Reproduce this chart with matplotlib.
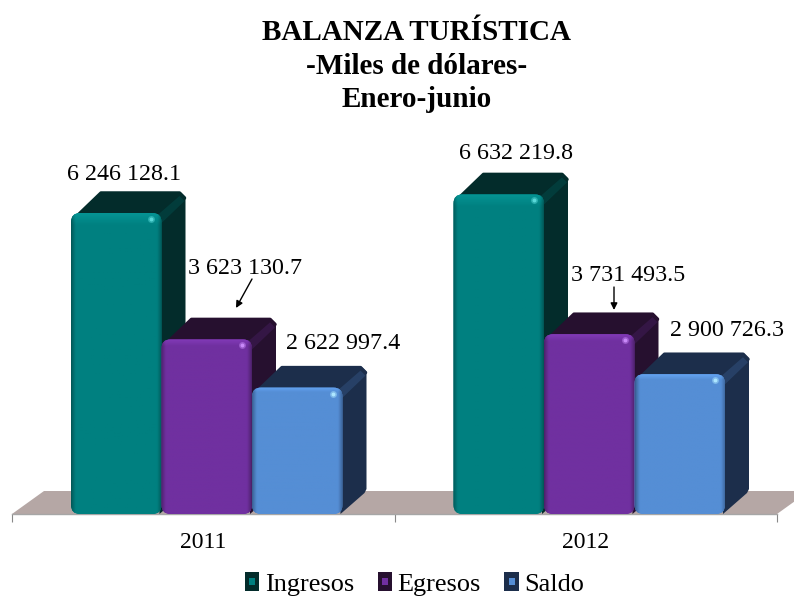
import numpy as np
import matplotlib
matplotlib.use('Agg')
import matplotlib.pyplot as plt
from matplotlib.patches import FancyBboxPatch, Polygon, Rectangle, Patch
from matplotlib.colors import to_rgb
from matplotlib.legend_handler import HandlerBase

years = ['2011', '2012']
series = ['Ingresos', 'Egresos', 'Saldo']
ingresos = [6246128.1, 6632219.8]
egresos = [3623130.7, 3731493.5]
saldo = [2622997.4, 2900726.3]
labels = [['6 246 128.1', '6 632 219.8'],
          ['3 623 130.7', '3 731 493.5'],
          ['2 622 997.4', '2 900 726.3']]

front = ['#008080', '#7030A0', '#558ED5']
dark = ['#032C2B', '#26102F', '#1C2E4B']

plt.rcParams['font.family'] = ['Liberation Serif', 'DejaVu Serif']

W, H = 794, 597
fig = plt.figure(figsize=(W / 100, H / 100), dpi=100)
ax = fig.add_axes([12 / W, (H - 514) / H, 765 / W, 414 / H])

px_x = 2 / 765            # one pixel in data units
px_y = 6246128.1 / 301
ax.set_xlim(0, 2)
ax.set_ylim(0, 414 * px_y)

dx, dy = 24 * px_x, 21 * px_y
bar_w = 90.5 * px_x


def shaded_face(base, edge, w=90, h=200):
    # dark left/right edges, a lighter band at the top of the face
    base, edge = np.array(to_rgb(base)), np.array(to_rgb(edge))
    edge = edge * 0.55 + base * 0.45
    xx = np.arange(w) + 0.5
    dist = np.minimum(xx, w - xx)
    f = np.clip(dist / 5, 0, 1) ** 0.8
    img = np.ones((h, w, 3)) * base
    img = edge + (img - edge) * f[None, :, None]
    top = np.clip(1 - (np.arange(h) + 0.5) / 8, 0, 1)[:, None, None]
    img = img + (np.minimum(base * 1.12 + 0.02, 1) - img) * top * f[None, :, None]
    return img


def draw_bar(x0, val, base, edge):
    x1 = x0 + bar_w
    side = Polygon([(x1 - 2 * px_x, 0), (x1 + dx - 2 * px_x, dy), (x1 + dx, dy + 4 * px_y),
                    (x1 + dx, val + dy - 5 * px_y), (x1 + dx - 5 * px_x, val + dy),
                    (x1 - 8 * px_x, val)], fc=edge, ec='none', zorder=3)
    ax.add_patch(side)
    top = Polygon([(x0 + 4 * px_x, val - 5 * px_y), (x0 + dx + 6 * px_x, val + dy - 1 * px_y),
                   (x1 + dx - 6 * px_x, val + dy - 1 * px_y), (x1 + dx - 1 * px_x, val + dy - 6 * px_y),
                   (x1 - 1 * px_x, val - 5 * px_y)],
                  fc=edge, ec=edge, lw=2.5, joinstyle='round', zorder=3)
    ax.add_patch(top)
    # lighter wedge where the top meets the side
    wedge = Polygon([(x1 - 5 * px_x, val - 3 * px_y), (x1 + dx - 6 * px_x, val + dy - 4 * px_y),
                     (x1 + dx - 1 * px_x, val + dy - 9 * px_y), (x1 - 1 * px_x, val - 11 * px_y)],
                    fc=tuple(np.array(to_rgb(edge)) * 0.72 + np.array(to_rgb(base)) * 0.28),
                    ec='none', alpha=0.7, zorder=3)
    ax.add_patch(wedge)
    box = FancyBboxPatch((x0, 0), bar_w, val,
                         boxstyle='round,pad=0,rounding_size=%f' % (9 * px_x),
                         mutation_aspect=px_y / px_x, fc=base, ec='none', zorder=3)
    ax.add_patch(box)
    im = ax.imshow(shaded_face(base, edge), extent=(x0, x1, 0, val), aspect='auto', zorder=3)
    im.set_clip_path(box)
    # small shine near the top right corner
    shine = np.minimum(np.array(to_rgb(base)) + 0.35, 1)
    ax.plot([x1 - 10 * px_x], [val - 6 * px_y], 'o', ms=5, mfc=tuple(shine), mec='none', alpha=0.45, zorder=3)
    ax.plot([x1 - 10 * px_x], [val - 6 * px_y], 'o', ms=2.8, mfc=tuple(shine), mec='none', zorder=3)


# floor
ax.add_patch(Polygon([(0, 0), (32 * px_x, 23 * px_y), (2 + 32 * px_x, 23 * px_y), (2, 0)],
                     fc='#B5A7A5', ec='none', clip_on=False, zorder=1))

values = [ingresos, egresos, saldo]
for g in range(len(years)):
    for s in range(len(series)):
        draw_bar(g + 59 * px_x + s * bar_w, values[s][g], front[s], dark[s])

ax.set_xlim(0, 2)
ax.set_ylim(0, 414 * px_y)

# value labels, offset in pixels from the front top middle of each bar
offsets = [[(8, 38), (17, 41)], [(38, 71), (39, 59)], [(46, 44), (47, 44)]]
for s in range(len(series)):
    for g in range(len(years)):
        xc = g + 59 * px_x + s * bar_w + bar_w / 2
        ax.annotate(labels[s][g], (xc, values[s][g]), xytext=offsets[s][g],
                    textcoords='offset pixels', ha='center', va='center',
                    fontsize=17.3, color='black', zorder=5, annotation_clip=False)

# leader arrows
ax.annotate('', xy=((236 - 12) * px_x, (514 - 308) * px_y),
            xytext=((252 - 12) * px_x, (514 - 279) * px_y),
            arrowprops=dict(arrowstyle='-|>', color='black', lw=1, shrinkA=0, shrinkB=0), zorder=5)
ax.annotate('', xy=((614 - 12) * px_x, (514 - 310) * px_y),
            xytext=((614 - 12) * px_x, (514 - 287) * px_y),
            arrowprops=dict(arrowstyle='-|>', color='black', lw=1, shrinkA=0, shrinkB=0), zorder=5)

# axis
for name in ['top', 'left', 'right']:
    ax.spines[name].set_visible(False)
ax.spines['bottom'].set_color('#A6A6A6')
ax.spines['bottom'].set_linewidth(1)
ax.spines['bottom'].set_zorder(2)
ax.patch.set_visible(False)
ax.set_yticks([])
ax.set_xticks([0, 1, 2])
ax.set_xticklabels([])
ax.tick_params(axis='x', which='major', length=5.5, width=0.8, color='#888888')
ax.set_xticks([0.5, 1.5], minor=True)
ax.set_xticklabels(years, minor=True, fontsize=17)
ax.tick_params(axis='x', which='minor', length=0, pad=13)

# title
fig.text(417 / W, 1 - 66 / H, 'BALANZA TURÍSTICA\n-Miles de dólares-\nEnero-junio',
         ha='center', va='center', fontsize=21, fontweight='bold', linespacing=1.3)


class SwatchHandler(HandlerBase):
    def create_artists(self, legend, orig, xd, yd, width, height, fontsize, trans):
        c = orig.get_facecolor()
        e = orig.get_edgecolor()
        out = Rectangle((-xd, -yd), width, height, fc=e, ec='none', transform=trans)
        inner = Rectangle((-xd + width * 0.3, -yd + height * 0.3), width * 0.4, height * 0.4,
                          fc=c, ec='none', transform=trans)
        return [out, inner]


handles = [Patch(facecolor=front[i], edgecolor=dark[i], label=series[i]) for i in range(3)]
fig.legend(handles=handles, loc='center', bbox_to_anchor=(414.5 / W, 1 - 584 / H), ncol=3,
           frameon=False, fontsize=18.9, handler_map={Patch: SwatchHandler()},
           handlelength=0.56, handleheight=0.72, handletextpad=0.2, columnspacing=0.9,
           borderpad=0, borderaxespad=0)

fig.savefig('out.png', dpi=100, facecolor='white')
